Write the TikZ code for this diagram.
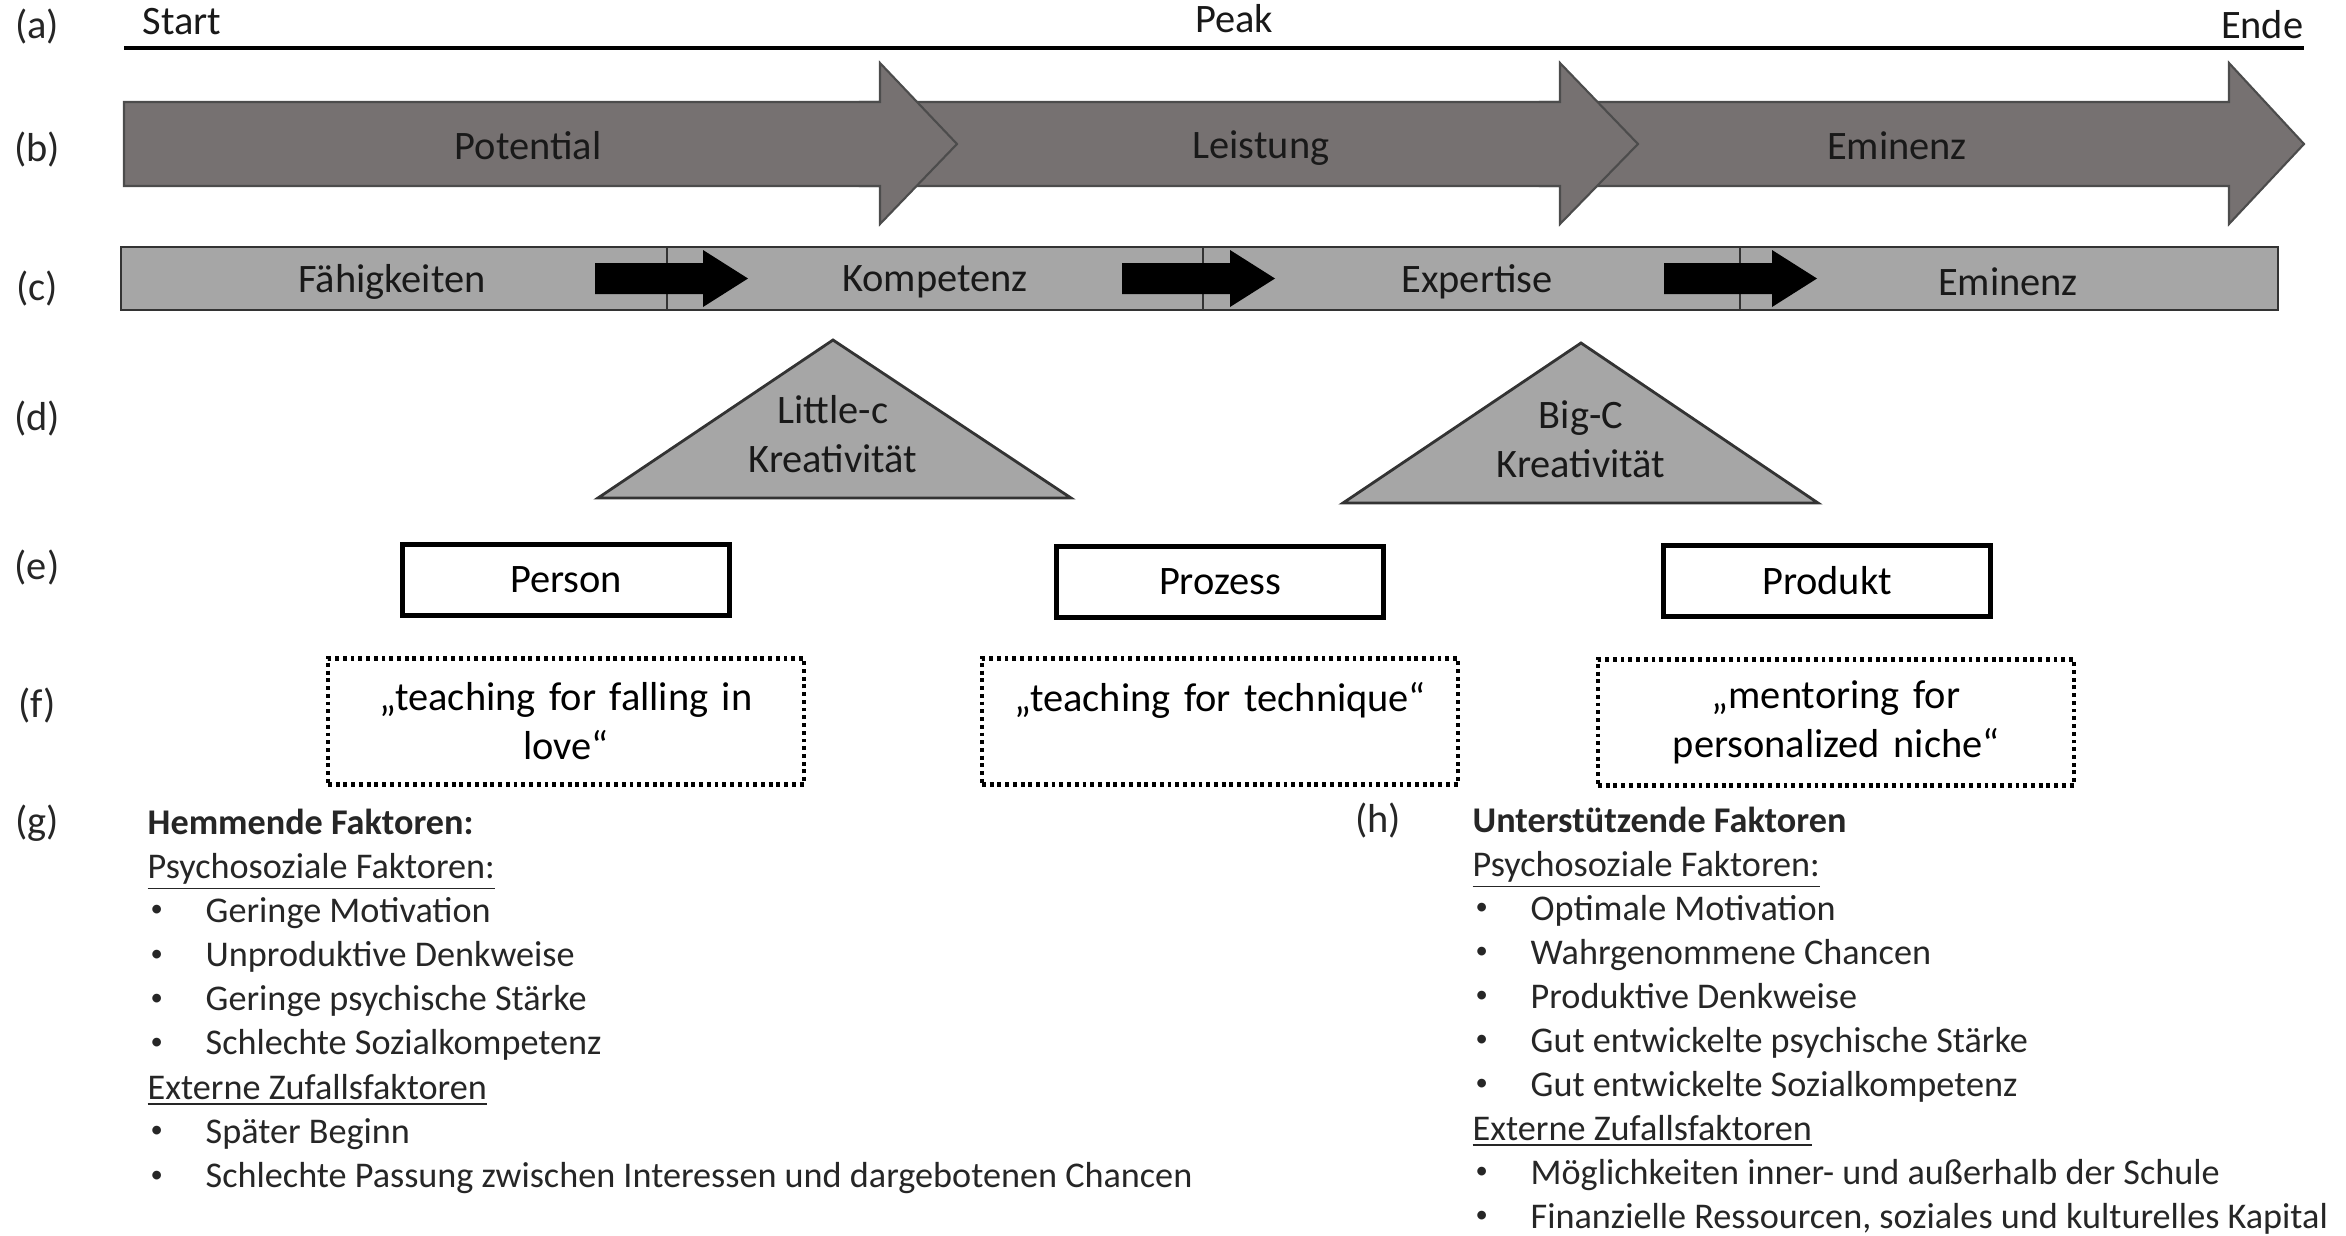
\documentclass[tikz,border=0pt]{standalone}
\usepackage{fontspec}
\setmainfont{Carlito}
\usepackage{xcolor}
\usetikzlibrary{positioning}

\definecolor{pfeilgrau}{RGB}{118,113,113}
\definecolor{balkengrau}{RGB}{166,166,166}
\newcommand{\punkt}[1]{\makebox[0.58cm][l]{\hspace{0.03cm}\raisebox{0.3ex}{\fontsize{7}{7}\selectfont\textbullet}}#1}

\begin{document}
\begin{tikzpicture}[
    zeile/.style={font=\fontsize{11.5}{14}\selectfont,text=black!85},
    txt/.style={font=\fontsize{11.5}{14}\selectfont,text=black!90,align=center},
    kasten/.style={draw,line width=1.6pt,minimum width=3.27cm,minimum height=0.71cm,
      font=\fontsize{11.5}{14}\selectfont},
    punktkasten/.style={draw,dash pattern=on 1.1pt off 1.1pt,line width=1.2pt,
      minimum width=4.76cm,minimum height=1.26cm,text width=4.5cm,align=center,
      font=\fontsize{11.5}{14}\selectfont},
    liste/.style={anchor=base west,inner sep=0,font=\fontsize{10.3}{12.5}\selectfont,text=black!85}]
  \useasboundingbox (0,0) rectangle (23.46,-12.35);

  % Zeilenbeschriftung
  \node[zeile] (la) at (0.37,-0.27) {(a)};
  \node[zeile] (lb) at (0.37,-1.50) {(b)};
  \node[zeile] (lc) at (0.37,-2.89) {(c)};
  \node[zeile] (ld) at (0.37,-4.19) {(d)};
  \node[zeile] (le) at (0.37,-5.68) {(e)};
  \node[zeile] (lf) at (0.37,-7.06) {(f)};
  \node[zeile,anchor=base] (lg) at (0.37,-8.34) {(g)};
  \node[zeile,anchor=base] (lh) at (13.78,-8.32) {(h)};

  % (a) Zeitachse
  \draw[line width=1.4pt] (1.24,-0.48) -- (23.04,-0.48);
  \node[txt,anchor=west,inner sep=0] (start) at (1.42,-0.22) {Start};
  \node[txt] (peak) at (12.34,-0.19) {Peak};
  \node[txt,anchor=east,inner sep=0] (ende) at (23.04,-0.25) {Ende};

  % (b) grosse Pfeile, der linke liegt oben
  \foreach \s/\h/\t in {15.4/22.29/23.04, 8.6/15.60/16.38, 1.24/8.80/9.57}
    \draw[fill=pfeilgrau,draw=black!70,line width=0.6pt]
      (\s,-1.02) -- (\h,-1.02) -- (\h,-0.63) -- (\t,-1.44) -- (\h,-2.24) -- (\h,-1.86) -- (\s,-1.86) -- cycle;
  \node[txt] (potential) at (5.28,-1.46) {Potential};
  \node[txt] (leistung) at (12.61,-1.48) {Leistung};
  \node[txt] (eminenzb) at (18.97,-1.46) {Eminenz};

  % (c) Balken
  \foreach \a/\b in {1.21/6.67, 6.67/12.03, 12.03/17.40, 17.40/22.78}
    \draw[fill=balkengrau,draw=black!80,line width=0.5pt] (\a,-2.47) rectangle (\b,-3.10);
  \foreach \x in {5.95,11.22,16.64}
    \fill (\x,-2.63) -- ++(1.08,0) -- ++(0,0.13) -- ++(0.45,-0.285) -- ++(-0.45,-0.285)
      -- ++(0,0.13) -- ++(-1.08,0) -- cycle;
  \node[txt] (faehig) at (3.92,-2.82) {Fähigkeiten};
  \node[txt] (kompetenz) at (9.35,-2.82) {Kompetenz};
  \node[txt] (expertise) at (14.77,-2.82) {Expertise};
  \node[txt] (eminenzc) at (20.08,-2.82) {Eminenz};

  % (d) Dreiecke
  \draw[fill=balkengrau,draw=black!80,line width=0.8pt] (5.98,-4.98) -- (8.33,-3.40) -- (10.71,-4.98) -- cycle;
  \draw[fill=balkengrau,draw=black!80,line width=0.8pt] (13.43,-5.03) -- (15.81,-3.43) -- (18.18,-5.03) -- cycle;
  \node[txt] (littlec) at (8.33,-4.34) {Little-c\\Kreativität};
  \node[txt] (bigc) at (15.81,-4.39) {Big-C\\Kreativität};

  % (e) Kaesten
  \node[kasten] (person) at (5.66,-5.80) {Person};
  \node[kasten] (prozess) at (12.20,-5.82) {Prozess};
  \node[kasten] (produkt) at (18.27,-5.81) {Produkt};

  % (f) gepunktete Kaesten
  \node[punktkasten,below=0.38cm of person] (love) {„teaching for falling in\\love“};
  \node[punktkasten,below=0.36cm of prozess] (technik) {„teaching for technique“\\\mbox{}};
  \node[punktkasten,below=0.38cm of produkt,xshift=0.09cm] (nische) {„mentoring for\\personalized niche“};

  % (g) hemmende Faktoren
  \node[liste] (ghead) at (1.47,-8.34) {\textbf{Hemmende Faktoren:}};
  \node[liste] (gpsy) at (1.47,-8.78) {\underline{Psychosoziale Faktoren:}};
  \foreach \t [count=\i] in {Geringe Motivation, Unproduktive Denkweise,
      Geringe psychische Stärke, Schlechte Sozialkompetenz}
    \node[liste] (gp\i) at (1.47,{-8.78-0.441*\i}) {\punkt{\t}};
  \node[liste] (gext) at (1.47,-10.99) {\underline{Externe Zufallsfaktoren}};
  \foreach \t [count=\i] in {Später Beginn,
      Schlechte Passung zwischen Interessen und dargebotenen Chancen}
    \node[liste] (ge\i) at (1.47,{-10.99-0.441*\i}) {\punkt{\t}};

  % (h) unterstuetzende Faktoren
  \node[liste] (hhead) at (14.72,-8.32) {\textbf{Unterstützende Faktoren}};
  \node[liste] (hpsy) at (14.72,-8.76) {\underline{Psychosoziale Faktoren:}};
  \foreach \t [count=\i] in {Optimale Motivation, Wahrgenommene Chancen,
      Produktive Denkweise, Gut entwickelte psychische Stärke, Gut entwickelte Sozialkompetenz}
    \node[liste] (hp\i) at (14.72,{-8.76-0.44*\i}) {\punkt{\t}};
  \node[liste] (hext) at (14.72,-11.40) {\underline{Externe Zufallsfaktoren}};
  \foreach \t [count=\i] in {Möglichkeiten inner- und außerhalb der Schule,
      {Finanzielle Ressourcen, soziales und kulturelles Kapital}}
    \node[liste] (he\i) at (14.72,{-11.40-0.44*\i}) {\punkt{\t}};
\end{tikzpicture}
\end{document}
